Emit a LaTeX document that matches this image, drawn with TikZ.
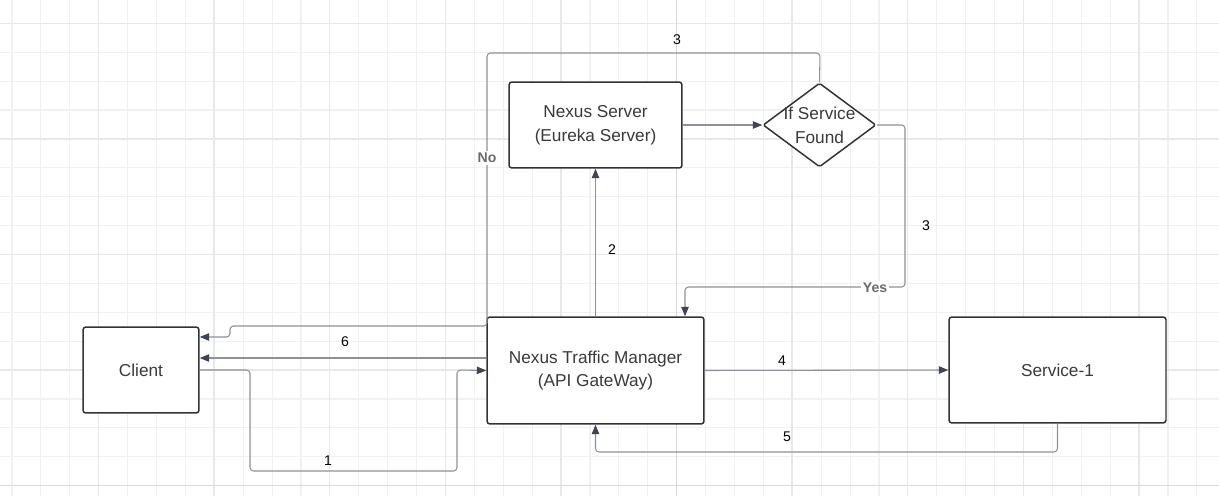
\documentclass[tikz,border=0pt]{standalone}
\usepackage{fontspec}
\setmainfont{Liberation Sans}
\usetikzlibrary{positioning}
\usetikzlibrary{shapes.geometric, arrows.meta, calc}

\definecolor{boxline}{HTML}{333333}
\definecolor{boxtext}{HTML}{3A3A3A}
\definecolor{connline}{HTML}{8E9298}
\definecolor{tipfill}{HTML}{3E4553}
\definecolor{gridminor}{HTML}{F1F1F1}
\definecolor{gridmajor}{HTML}{E8E8E8}
\definecolor{gridstrong}{HTML}{D9D9D9}

\tikzset{
  box/.style={draw=boxline, line width=0.85pt, rounded corners=1.6pt, fill=white,
    text=boxtext, align=center, font=\fontsize{9.8}{13.6}\selectfont},
  decision/.style={draw=boxline, line width=0.85pt, diamond, fill=white, inner sep=0pt,
    minimum width=2.26cm, minimum height=1.68cm, rounded corners=1pt},
  conn/.style={draw=connline, line width=0.6pt, rounded corners=2pt,
    -{Triangle[length=1.9mm, width=1.5mm, color=tipfill]}},
  num/.style={font=\fontsize{8}{9}\selectfont, text=black, inner sep=1pt},
  branch/.style={font=\bfseries\fontsize{8}{9}\selectfont, text=boxtext!75, fill=white, inner sep=1pt}
}

\begin{document}
\begin{tikzpicture}[x=0.02cm, y=-0.02cm]
  \useasboundingbox (0,0) rectangle (1219,496);
  \fill[white] (0,0) rectangle (1219,496); %background

  %grid
  \foreach \i in {0,...,41}{
    \pgfmathsetmacro\gx{12+28.9*\i}
    \draw[gridminor, line width=0.6pt] (\gx,0) -- (\gx,496);
  }
  \foreach \j in {0,...,16}{
    \pgfmathsetmacro\gy{23.3+28.9*\j}
    \draw[gridminor, line width=0.6pt] (0,\gy) -- (1219,\gy);
  }
  \foreach \i in {0,...,9}{
    \pgfmathsetmacro\gx{98.5+115.6*\i}
    \draw[gridmajor, line width=0.7pt] (\gx,0) -- (\gx,496);
  }
  \foreach \j in {0,...,4}{
    \pgfmathsetmacro\gy{23.3+115.6*\j}
    \draw[gridmajor, line width=0.7pt] (0,\gy) -- (1219,\gy);
  }
  \draw[gridstrong, line width=0.8pt] (676.5,0) -- (676.5,496);
  \draw[gridstrong, line width=1.1pt] (0,485.5) -- (1219,485.5);

  %nodes
  \node[box, minimum width=2.32cm, minimum height=1.72cm] (client) at (141,370) {Client};
  \node[box, minimum width=4.34cm, minimum height=2.14cm] (tm) at (595.5,370.5)
    {Nexus Traffic Manager\\(API GateWay)};
  \node[box, minimum width=3.46cm, minimum height=1.72cm] (ns) at (595.5,125)
    {Nexus Server\\(Eureka Server)};
  \node[decision, label={[box, draw=none, fill=none, inner sep=0pt]center:If Service\\Found}]
    (dec) at (819.5,125) {};
  \node[box, minimum width=4.34cm, minimum height=2.12cm] (svc) at (1057.5,370) {Service-1};

  %connectors
  \draw[conn] (client.east) -- (250,370) -- (250,471) -- (457,471) -- (457,370) -- (tm.west); %1
  \draw[conn] (tm.west |- 0,358) -- (client.east |- 0,358); %6
  \draw[conn] (dec.north) -- (820,53) -- (487,53) -- (487,326) -- (230,326)
    -- (230,337) -- (client.east |- 0,337); %No
  \draw[conn] (ns.east) -- (dec.west);
  \draw[conn] (tm.north) -- (ns.south); %2
  \draw[conn] (dec.east) -- (905,125) -- (905,287) -- (685,287) -- (tm.north -| 685,287); %Yes
  \draw[conn] (tm.east) -- (svc.west); %4
  \draw[conn] (svc.south) -- (1057.5,452) -- (595.5,452) -- (tm.south); %5

  %labels
  \node[num] (l1) at (328,461) {1};
  \node[num] (l6) at (345,342) {6};
  \node[num] (l2) at (612,250) {2};
  \node[num] (l3a) at (677,40) {3};
  \node[num] (l3b) at (926,226) {3};
  \node[num] (l4) at (782,361) {4};
  \node[num] (l5) at (787,437) {5};
  \node[branch] (no) at (487,158) {No};
  \node[branch] (yes) at (875,288) {Yes};
\end{tikzpicture}
\end{document}
